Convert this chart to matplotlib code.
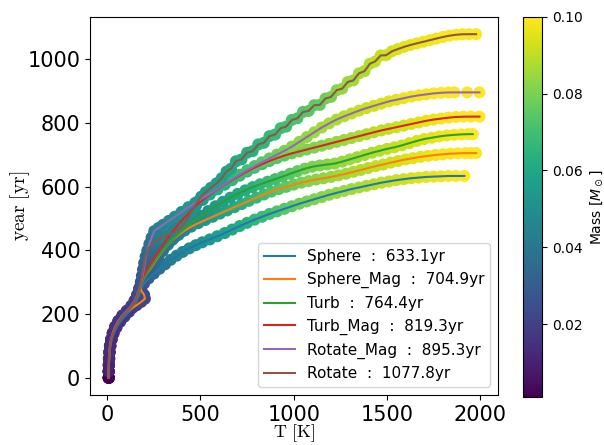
import matplotlib
matplotlib.use('Agg')
import matplotlib.pyplot as plt

plt.rcParams['mathtext.fontset'] = 'cm'

names = ['Sphere', 'Sphere_Mag', 'Turb', 'Turb_Mag', 'Rotate_Mag', 'Rotate']
line_colors = ['#1f77b4', '#ff7f0e', '#2ca02c', '#d62728', '#9467bd', '#8c564b']

# ---- Sphere ----
sphere_T = [8, 8, 9, 11, 13, 17, 24, 35, 50, 70,
            93, 117, 140, 158, 170, 180, 198, 222, 250, 280,
            310, 340, 372, 405, 440, 475, 510, 550, 590, 630,
            670, 710, 750, 790, 830, 870, 910, 950, 990, 1030,
            1070, 1110, 1150, 1190, 1230, 1270, 1310, 1350, 1390, 1430,
            1470, 1510, 1550, 1590, 1630, 1670, 1710, 1750, 1790, 1830,
            1870, 1915]
sphere_yr = [0, 20, 40, 60, 80, 100, 120, 140, 158, 176,
             192, 207, 222, 240, 258, 278, 296, 312, 327, 342,
             356, 370, 383, 395, 406, 416, 425, 434, 444, 454,
             465, 476, 486, 496, 505, 514, 522, 530, 538, 546,
             553, 560, 567, 574, 580, 586, 592, 597, 602, 607,
             612, 616, 620, 623, 626, 628, 630, 631, 632, 633,
             633, 633.1]
sphere_mass = [.001, .010, .011, .012, .013, .013, .014, .014, .015, .016,
               .017, .018, .019, .020, .022, .025, .028, .031, .034, .037,
               .040, .042, .044, .046, .048, .050, .052, .054, .056, .058,
               .060, .062, .064, .066, .068, .070, .072, .074, .076, .078,
               .080, .081, .082, .083, .084, .085, .086, .087, .088, .089,
               .090, .091, .092, .093, .094, .095, .096, .097, .098, .099,
               .0995, .100]

# ---- Sphere_Mag ----
spheremag_T = [8, 8, 9, 10, 12, 16, 21, 30, 43, 60,
               82, 106, 132, 158, 182, 202, 198, 184, 176, 182,
               196, 214, 234, 254, 275, 298, 322, 350, 382, 415,
               450, 488, 526, 565, 604, 643, 682, 721, 760, 800,
               840, 880, 920, 960, 1000, 1040, 1080, 1120, 1160, 1200,
               1240, 1280, 1320, 1360, 1400, 1440, 1480, 1520, 1560, 1600,
               1640, 1680, 1720, 1760, 1800, 1840, 1880, 1920, 1950, 1978]
spheremag_yr = [0, 20, 40, 60, 80, 100, 120, 140, 160, 178,
                195, 208, 218, 228, 238, 248, 260, 272, 285, 298,
                312, 328, 344, 362, 380, 398, 416, 433, 448, 462,
                474, 485, 495, 505, 515, 525, 535, 545, 555, 565,
                575, 584, 592, 599, 606, 612, 617, 622, 626, 630,
                635, 640, 646, 652, 658, 664, 669, 675, 680, 685,
                689, 693, 696, 699, 701, 703, 704, 704.6, 704.8, 704.9]
spheremag_mass = [.001, .010, .011, .012, .013, .013, .014, .014, .015, .016,
                  .017, .018, .019, .020, .021, .022, .023, .024, .025, .027,
                  .029, .031, .033, .035, .037, .039, .041, .043, .045, .047,
                  .049, .051, .053, .055, .057, .059, .061, .063, .065, .067,
                  .069, .071, .073, .075, .077, .079, .081, .082, .083, .084,
                  .085, .086, .087, .088, .089, .090, .091, .092, .093, .094,
                  .095, .096, .097, .098, .0985, .099, .0995, .100, .100, .100]

# ---- Turb ----
turb_T = [8, 8, 9, 10, 12, 16, 22, 32, 46, 64,
          86, 110, 135, 152, 165, 176, 188, 206, 226, 248,
          272, 298, 328, 360, 395, 430, 466, 503, 541, 580,
          620, 660, 700, 740, 780, 820, 860, 900, 940, 980,
          1020, 1060, 1100, 1140, 1180, 1220, 1260, 1300, 1340, 1380,
          1420, 1460, 1500, 1540, 1580, 1620, 1660, 1700, 1740, 1780,
          1820, 1860, 1900, 1935, 1960]
turb_yr = [0, 20, 40, 60, 80, 100, 120, 140, 160, 178,
           195, 210, 225, 242, 260, 280, 300, 320, 340, 360,
           380, 400, 420, 440, 458, 475, 492, 508, 523, 538,
           552, 565, 577, 588, 598, 607, 615, 623, 631, 640,
           648, 656, 662, 666, 669, 672, 678, 685, 692, 699,
           706, 712, 718, 723, 729, 736, 743, 749, 753, 757,
           760, 762, 763.5, 764.2, 764.4]
turb_mass = [.001, .010, .011, .012, .013, .013, .014, .014, .015, .016,
             .017, .018, .019, .020, .022, .025, .028, .030, .032, .034,
             .036, .038, .040, .042, .044, .046, .048, .050, .052, .054,
             .056, .058, .060, .062, .064, .066, .068, .070, .072, .074,
             .076, .078, .080, .081, .082, .083, .084, .085, .086, .087,
             .088, .089, .090, .091, .092, .093, .094, .095, .096, .097,
             .098, .099, .0995, .100, .100]

# ---- Turb_Mag ----
turbmag_T = [8, 8, 9, 10, 12, 16, 22, 31, 44, 62,
             84, 108, 133, 150, 162, 172, 182, 196, 214, 234,
             256, 279, 302, 326, 352, 380, 410, 442, 476, 512,
             550, 590, 630, 670, 710, 750, 790, 830, 870, 910,
             950, 990, 1030, 1070, 1110, 1150, 1190, 1230, 1270, 1310,
             1350, 1390, 1430, 1470, 1510, 1550, 1590, 1630, 1670, 1710,
             1750, 1790, 1830, 1870, 1910, 1950, 1996]
turbmag_yr = [0, 20, 40, 60, 80, 100, 120, 140, 160, 178,
              195, 210, 225, 242, 260, 280, 300, 320, 340, 360,
              380, 400, 420, 440, 460, 480, 500, 520, 540, 558,
              575, 591, 606, 620, 634, 647, 659, 670, 680, 689,
              697, 704, 710, 716, 722, 728, 734, 740, 746, 752,
              758, 764, 770, 776, 781, 786, 791, 796, 801, 806,
              810, 813, 816, 818, 819, 819.2, 819.3]
turbmag_mass = [.001, .010, .011, .012, .013, .013, .014, .014, .015, .016,
                .017, .018, .019, .020, .022, .025, .027, .029, .031, .033,
                .035, .037, .039, .041, .043, .045, .047, .049, .051, .053,
                .055, .057, .059, .061, .063, .065, .067, .069, .071, .073,
                .075, .077, .079, .080, .081, .082, .083, .084, .085, .086,
                .087, .088, .089, .090, .091, .092, .093, .094, .095, .096,
                .097, .098, .0985, .099, .0995, .100, .100]

# ---- Rotate_Mag ----
rotmag_T = [8, 7, 8, 9, 11, 14, 20, 29, 42, 59,
            80, 104, 128, 146, 160, 172, 182, 190, 196, 202,
            208, 216, 226, 238, 252, 275, 300, 330, 362, 398,
            435, 472, 510, 550, 590, 630, 670, 710, 750, 790,
            830, 870, 910, 950, 990, 1030, 1070, 1110, 1150, 1190,
            1230, 1270, 1310, 1350, 1390, 1430, 1470, 1510, 1550, 1590,
            1630, 1670, 1710, 1750, 1790, 1830, 1862, 1930, 1996]
rotmag_yr = [0, 20, 40, 60, 80, 100, 120, 140, 160, 178,
             195, 210, 225, 242, 260, 280, 300, 320, 340, 360,
             380, 400, 420, 440, 460, 470, 480, 492, 505, 520,
             535, 549, 563, 577, 592, 607, 622, 637, 651, 664,
             676, 688, 700, 712, 725, 740, 755, 770, 785, 798,
             810, 820, 829, 838, 846, 853, 860, 867, 872, 877,
             882, 886, 889, 892, 894, 895, 895.2, 895.3, 895.3]
rotmag_mass = [.001, .010, .011, .012, .013, .013, .014, .014, .015, .016,
               .017, .018, .019, .020, .022, .024, .026, .028, .030, .032,
               .034, .036, .038, .040, .042, .044, .046, .048, .050, .052,
               .054, .056, .058, .060, .062, .064, .066, .068, .070, .072,
               .074, .076, .078, .080, .082, .083, .084, .085, .086, .087,
               .088, .089, .090, .091, .092, .093, .094, .095, .096, .097,
               .098, .0985, .099, .0995, .100, .100, .100, .100, .100]

# ---- Rotate ----
rot_T = [8, 8, 8, 9, 11, 15, 21, 30, 44, 62,
         84, 108, 131, 148, 161, 172, 180, 186, 192, 198,
         206, 216, 230, 248, 270, 296, 324, 352, 378, 400,
         418, 434, 450, 466, 484, 504, 528, 556, 586, 614,
         640, 664, 690, 720, 750, 780, 810, 840, 870, 900,
         930, 960, 990, 1020, 1050, 1080, 1110, 1140, 1170, 1200,
         1230, 1260, 1290, 1320, 1350, 1380, 1408, 1436, 1466, 1496,
         1526, 1558, 1592, 1626, 1660, 1695, 1730, 1765, 1800, 1835,
         1870, 1905, 1940, 1978]
rot_yr = [0, 20, 40, 60, 80, 100, 120, 140, 160, 178,
          195, 210, 225, 242, 260, 280, 300, 320, 340, 360,
          380, 398, 414, 426, 434, 441, 447, 454, 463, 474,
          488, 504, 520, 536, 552, 568, 582, 596, 610, 626,
          647, 656, 679, 685, 706, 711, 732, 737, 758, 763,
          783, 788, 809, 814, 834, 837, 855, 856, 876, 881,
          902, 907, 928, 933, 955, 962, 985, 992, 1011, 1012,
          1024, 1031, 1038, 1044, 1049, 1054, 1059, 1064, 1069, 1073,
          1076, 1077.5, 1077.8, 1077.8]
rot_mass = [.001, .010, .011, .012, .013, .013, .014, .014, .015, .016,
            .017, .018, .019, .020, .022, .024, .026, .028, .030, .032,
            .034, .036, .038, .040, .042, .044, .045, .046, .047, .048,
            .049, .050, .051, .052, .053, .054, .055, .056, .057, .058,
            .059, .060, .061, .062, .063, .064, .065, .066, .067, .068,
            .069, .070, .071, .072, .073, .074, .075, .076, .078, .080,
            .082, .084, .085, .086, .087, .088, .089, .090, .091, .092,
            .093, .094, .095, .096, .097, .097, .098, .098, .099, .099,
            .0995, .100, .100, .100]

series_T = [sphere_T, spheremag_T, turb_T, turbmag_T, rotmag_T, rot_T]
series_yr = [sphere_yr, spheremag_yr, turb_yr, turbmag_yr, rotmag_yr, rot_yr]
series_mass = [sphere_mass, spheremag_mass, turb_mass, turbmag_mass, rotmag_mass, rot_mass]

vmin = min(min(m) for m in series_mass)
vmax = max(max(m) for m in series_mass)

fig = plt.figure(figsize=(6.04, 4.45), dpi=100)
ax = fig.add_axes([0.149, 0.1124, 0.6755, 0.8494])
cax = fig.add_axes([0.866, 0.108, 0.0315, 0.854])

sc = None
for T, Y, M in zip(series_T, series_yr, series_mass):
    sc = ax.scatter(T, Y, c=M, cmap='viridis', vmin=vmin, vmax=vmax,
                    s=75, edgecolors='none', zorder=1)

for name, T, Y, col in zip(names, series_T, series_yr, line_colors):
    ax.plot(T, Y, color=col, lw=1.5, zorder=2,
            label=f'{name}  :  {Y[-1]:.1f}yr')

ax.set_xlabel(r'$\mathrm{T\ [K]}$', fontsize=13)
ax.set_ylabel(r'$\mathrm{year\ [yr]}$', fontsize=14)
ax.xaxis.set_label_coords(0.5, -0.073)
ax.yaxis.set_label_coords(-0.142, 0.5)
ax.tick_params(labelsize=15)
ax.legend(loc='lower right', fontsize=11)

cb = fig.colorbar(sc, cax=cax)
cb.ax.tick_params(labelsize=10)
cb.set_label(r'Mass [$M_\odot$]', fontsize=10, math_fontfamily='dejavusans')

fig.savefig('out.png', dpi=100)
